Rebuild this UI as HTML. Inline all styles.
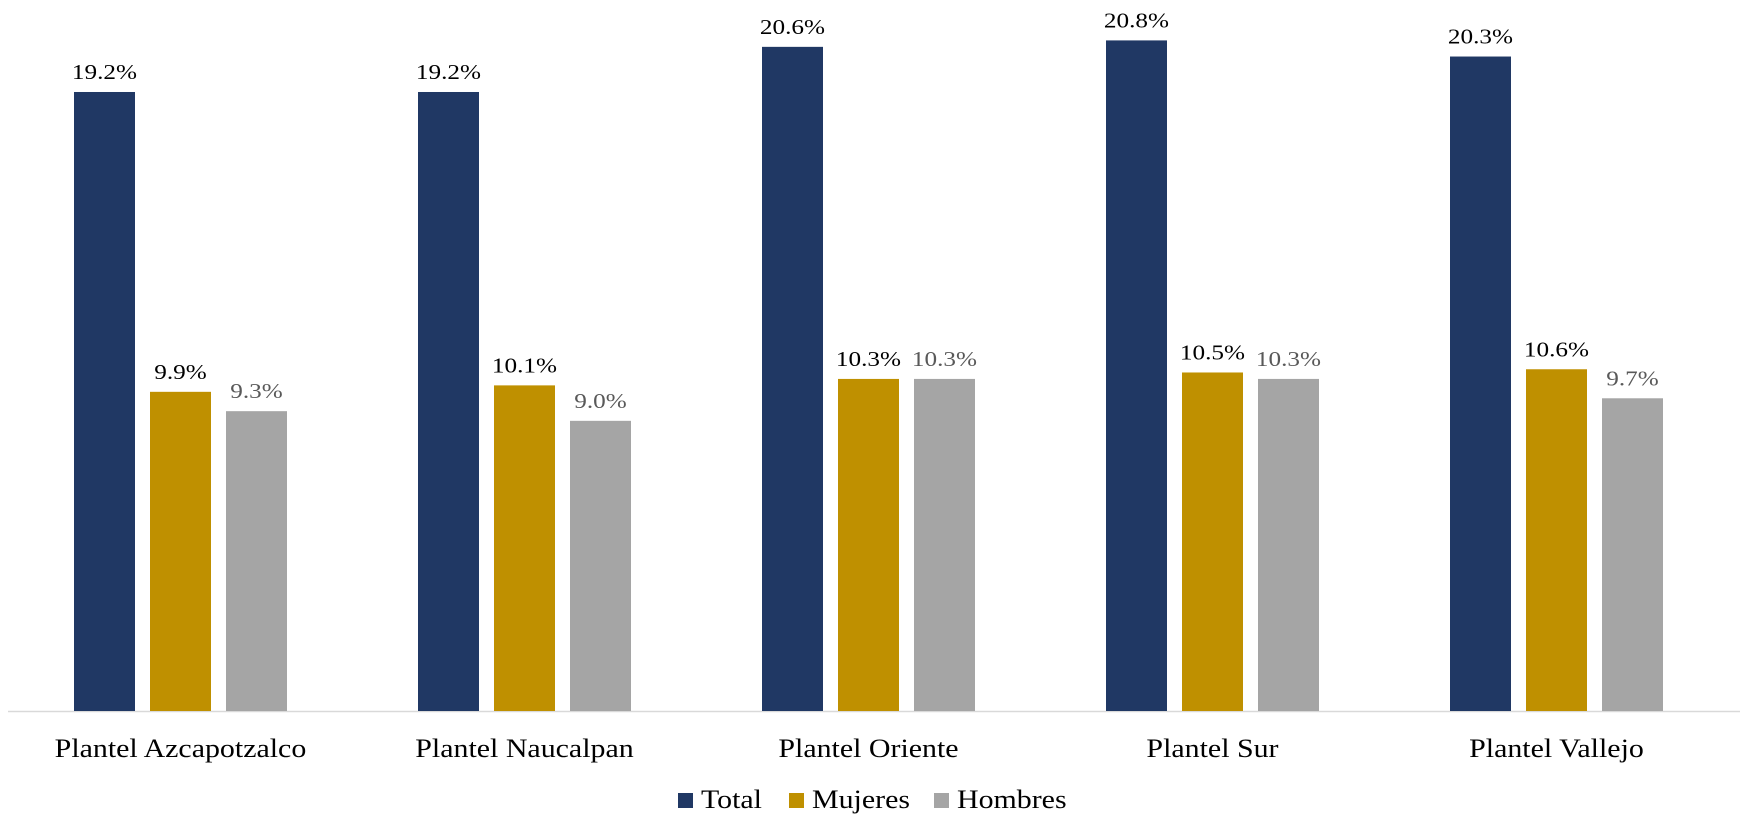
<!DOCTYPE html>
<html><head><meta charset="utf-8"><style>
html,body{margin:0;padding:0;background:#fff;}
svg{display:block;font-family:"Liberation Serif",serif;}
</style></head><body>
<svg id="chart" width="1740" height="819"></svg>
<script>
const categories=["Plantel Azcapotzalco","Plantel Naucalpan","Plantel Oriente","Plantel Sur","Plantel Vallejo"];
const seriesNames=["Total","Mujeres","Hombres"];
const totalValues=[19.2,19.2,20.6,20.8,20.3];
const mujeresValues=[9.9,10.1,10.3,10.5,10.6];
const hombresValues=[9.3,9.0,10.3,10.3,9.7];
const seriesColors=["#203864","#BF9000","#A5A5A5"];
const labelColors=["#000","#000","#595959"];
const NS="http://www.w3.org/2000/svg";
const svg=document.getElementById('chart');
const base=711, pxPer=32.24, groupW=344, firstCenter=180.5, barW=61, step=76;
function yScale(v){return base-v*pxPer;}
function xCenter(i){return firstCenter+i*groupW;}
function mk(tag,attrs){const e=document.createElementNS(NS,tag);for(const k in attrs)e.setAttribute(k,attrs[k]);svg.appendChild(e);return e;}
function stretch(t,f){const L=t.getComputedTextLength();t.setAttribute('textLength',(L*f).toFixed(1));t.setAttribute('lengthAdjust','spacingAndGlyphs');}
const axis=mk('line',{x1:8,x2:1740,y1:base+0.5,y2:base+0.5,stroke:'#D9D9D9','stroke-width':1.5});


const all=[totalValues,mujeresValues,hombresValues];
categories.forEach((c,i)=>{
  all.forEach((vals,s)=>{
    const x=xCenter(i)+(s-1)*step-barW/2;
    const y=yScale(vals[i]);
    const r=mk('rect',{x:x,y:y,width:barW,height:base-y,fill:seriesColors[s]});
    
    
    const t=mk('text',{x:x+barW/2,y:y-13,'text-anchor':'middle','font-size':21,fill:labelColors[s]});
    t.textContent=vals[i].toFixed(1)+'%';
    
    
    stretch(t,1.2);
  });
  const l=mk('text',{x:xCenter(i),y:757,'text-anchor':'middle','font-size':26,fill:'#000'});
  l.textContent=c;
  
  
  stretch(l,1.15);
});
const legX=[678,789,934];
seriesNames.forEach((n,s)=>{
  const r=mk('rect',{x:legX[s],y:793,width:15,height:15,fill:seriesColors[s]});
  
  
  const t=mk('text',{x:legX[s]+23,y:808,'font-size':26,fill:'#000'});
  t.textContent=n;
  
  
  stretch(t,1.15);
});
</script>
</body></html>
